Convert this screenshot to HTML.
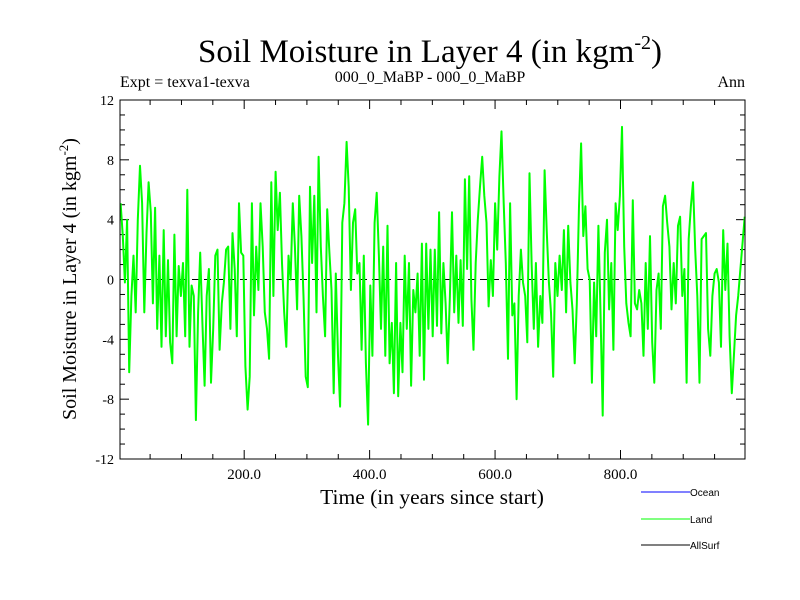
<!DOCTYPE html>
<html><head><meta charset="utf-8"><style>
html,body{margin:0;padding:0;background:#fff}
svg{display:block}
</style></head><body>
<svg id="chart" width="800" height="600" viewBox="0 0 800 600" xmlns="http://www.w3.org/2000/svg">
<text x="430" y="62" font-family="Liberation Serif, serif" font-size="33" text-anchor="middle">Soil Moisture in Layer 4 (in kgm<tspan font-size="20" dy="-13">-2</tspan><tspan dy="13">)</tspan></text>
<text x="120" y="87" font-family="Liberation Serif, serif" font-size="16">Expt = texva1-texva</text>
<text x="430" y="82" font-family="Liberation Serif, serif" font-size="16" text-anchor="middle">000_0_MaBP - 000_0_MaBP</text>
<text x="745" y="87" font-family="Liberation Serif, serif" font-size="16" text-anchor="end">Ann</text>
<text transform="translate(76,279) rotate(-90)" font-family="Liberation Serif, serif" font-size="20" text-anchor="middle">Soil Moisture in Layer 4 (in kgm<tspan font-size="13" dy="-8">-2</tspan><tspan dy="8">)</tspan></text>
<text x="432" y="504" font-family="Liberation Serif, serif" font-size="21.5" text-anchor="middle">Time (in years since start)</text>
<g id="ticks"></g>
<g id="plot"></g>
<rect x="120" y="100" width="625" height="359" fill="none" stroke="#000" stroke-width="1"/>
<g>
<line x1="641" y1="492" x2="690" y2="492" stroke="#0000ff"/>
<text x="690" y="496" font-family="Liberation Sans, sans-serif" font-size="10">Ocean</text>
<line x1="641" y1="519" x2="690" y2="519" stroke="#00ff00"/>
<text x="690" y="523" font-family="Liberation Sans, sans-serif" font-size="10">Land</text>
<line x1="641" y1="545" x2="690" y2="545" stroke="#000"/>
<text x="690" y="549" font-family="Liberation Sans, sans-serif" font-size="10">AllSurf</text>
</g>
</svg>
<script>
const yTicks=[-12,-8,-4,0,4,8,12];
const xTicks=[200,400,600,800];
const xTickLabels=["200.0","400.0","600.0","800.0"];
const landValues=[5.1,2.9,-0.2,4,-6.2,-1.1,1.6,-2.2,4,7.6,5.1,-2.2,3.1,6.5,4.5,-1.6,4.8,-3.3,1.6,-4.5,3.3,-3.8,1.3,-4.2,-5.6,3,-3.8,0.9,-1.1,1.1,-3.8,6,-4.5,-0.4,-1.1,-9.4,-2.2,1.8,-2.9,-7.1,-1.1,0.7,-6.9,-3.3,1.6,2,-4.7,-1.6,-0.2,2,2.2,-3.3,3.1,0.7,-3.8,5.1,1.8,1.6,-5.8,-8.7,-6.5,5.1,-2.4,2.2,-0.7,5.1,
2.2,-2.2,-3.3,-5.3,6.5,-1.1,7.2,3.3,5.8,1.1,-2.2,-4.5,1.6,0,5.1,2.2,-2,5.6,2.9,-1.1,-6.5,-7.2,6.2,1.1,5.6,-2.2,8.2,2.2,-1.1,-3.8,4.7,1.8,-0.7,-7.6,0.4,-5.1,-8.5,3.8,5.1,9.2,6.2,-0.7,3.8,4.7,0.4,1.1,-4.7,1.6,-5.6,-9.7,-0.4,-5.1,3.8,5.8,1.6,-3.3,2.2,-5.1,3.6,-5.6,-2.9,-7.6,1.1,-7.8,-2.9,-6.2,1.6,-3.3,1.1,-7.1,-0.7,-2.2,0.4,-5.1,2.4,
-6.7,2.4,-3.3,2,-3.8,2,-3.1,4.5,-3.6,1.1,-1.6,-5.6,-1.1,4.5,-2.2,1.6,-2.9,1.3,-3.1,6.7,0.7,6.9,-1.3,-4.7,1.1,4,6.2,8.2,5.6,3.8,-1.8,1.3,-1.1,5.1,2,6.9,9.9,5.1,1.1,-5.3,5.1,-2.4,-1.6,-8,-1.1,2,-0.2,-1.1,-4.2,7.1,1.1,-3.3,1.1,-4.5,-1.1,-2.9,7.3,3.3,-0.2,-2.2,-6.5,1.1,-1.1,1.6,-0.7,3.3,-2.2,3.6,-0.2,-2,-5.6,-1.6,4.9,9.1,2.9,4.9,0.7,0,
-6.9,-0.2,-3.8,3.6,-2.2,-9.1,1.8,4,-2,1.1,-4.7,5.1,3.3,5.6,10.2,2.2,-1.6,-2.9,-3.8,5.3,-1.6,-2,-0.7,-1.6,-5.1,1.1,-3.3,2.9,-4.2,-6.9,-0.7,0.4,-3.3,4.9,5.6,3.8,2.2,-2,1.1,-1.6,3.6,4.2,-1.1,0.7,-6.9,2.7,4.9,6.5,2,-1.1,-6.9,2.7,2.9,3.1,-3.3,-5.1,-1.1,0.4,0.7,-0.2,-4.5,3.3,-0.7,2.4,-3.8,-7.6,-5.1,-2.4,-1.1,0.7,2.4,4.2];
const yearStart=3, yearEnd=998;
const X0=120,X1=745,Y0=459,Y1=100,XMIN=2,XMAX=998.5,YMIN=-12,YMAX=12;
function xs(v){return X0+(v-XMIN)/(XMAX-XMIN)*(X1-X0);}
function ys(v){return Y0-(v-YMIN)/(YMAX-YMIN)*(Y0-Y1);}
const NS="http://www.w3.org/2000/svg";
const ticks=document.getElementById('ticks'),plot=document.getElementById('plot');
function mk(t,a,p){const e=document.createElementNS(NS,t);for(const k in a)e.setAttribute(k,a[k]);p.appendChild(e);return e;}
for(let v=YMIN;v<=YMAX;v++){const major=v%4===0;const L=major?9:5;const y=ys(v);
const l1=mk('line',{x1:X0,y1:y,x2:X0+L,y2:y,stroke:'#000'},ticks);


const l2=mk('line',{x1:X1,y1:y,x2:X1-L,y2:y,stroke:'#000'},ticks);

}
yTicks.forEach(v=>{const t=mk('text',{x:X0-6,y:ys(v)+5,'font-family':'Liberation Serif, serif','font-size':14,'text-anchor':'end'},ticks);t.textContent=String(v);

});
for(let v=50;v<XMAX;v+=50){const major=v%200===0;const L=major?9:5;const x=xs(v);
const l1=mk('line',{x1:x,y1:Y0,x2:x,y2:Y0-L,stroke:'#000'},ticks);


const l2=mk('line',{x1:x,y1:Y1,x2:x,y2:Y1+L,stroke:'#000'},ticks);

}
xTicks.forEach((v,i)=>{const t=mk('text',{x:xs(v),y:479,'font-family':'Liberation Serif, serif','font-size':15,'text-anchor':'middle'},ticks);t.textContent=xTickLabels[i];

});
const z=mk('line',{x1:X0,y1:ys(0),x2:X1,y2:ys(0),stroke:'#000','stroke-dasharray':'7,5'},plot);


const n=landValues.length;
const pts=landValues.map((v,i)=>{const yr=yearStart+i*(yearEnd-yearStart)/(n-1);return xs(yr).toFixed(1)+','+ys(v).toFixed(1);}).join(' ');
const pl=mk('polyline',{points:pts,fill:'none',stroke:'#00ff00','stroke-width':2,'stroke-linejoin':'round'},plot);


</script>
</body></html>
